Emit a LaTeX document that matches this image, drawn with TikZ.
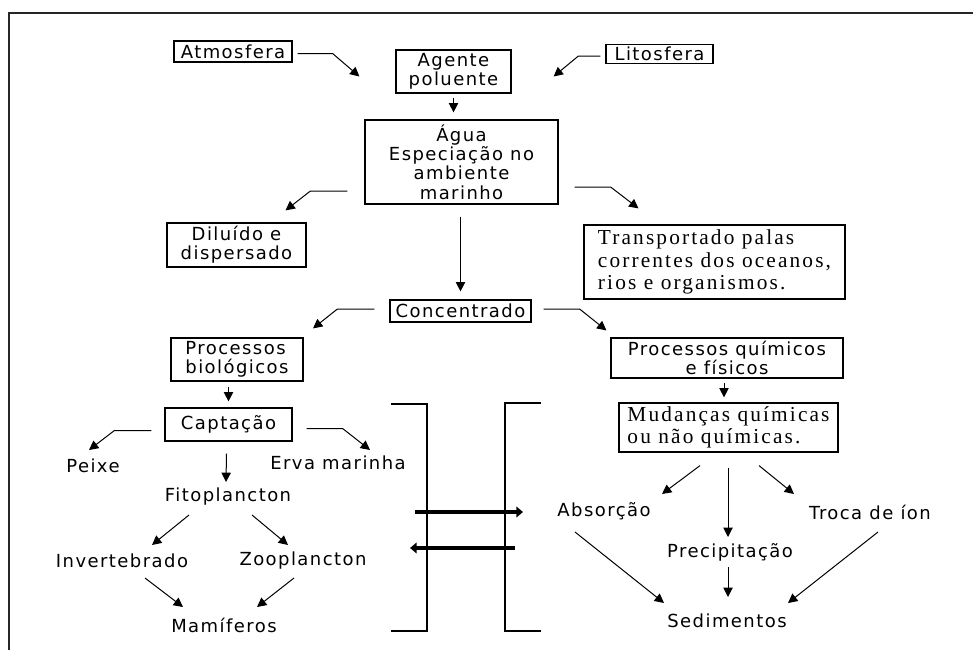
\documentclass[tikz,border=0pt]{standalone}
\usepackage{fontspec}
\setsansfont{DejaVu Sans}[LetterSpace=8]
\newfontfamily\transpfont{Liberation Serif}[LetterSpace=10]
\usetikzlibrary{arrows.meta,calc}

\tikzset{
	box/.style 2 args={draw, line width=0.9pt, inner sep=0pt, align=center,
		minimum width=#1*0.75pt, minimum height=#2*0.75pt,
		font=\sffamily\fontsize{13.5}{14.5}\selectfont},
	serifbox/.style 2 args={box={#1}{#2}, align=left,
		font=\transpfont\fontsize{16}{17}\selectfont},
	lbl/.style={inner sep=0pt, font=\sffamily\fontsize{13.5}{14.5}\selectfont},
	arr/.style={-{Triangle[length=7pt,width=7pt]}, line width=0.75pt},
	bigarr/.style={-{Triangle[length=5pt,width=8pt]}, line width=2.3pt},
}

\begin{document}
\begin{tikzpicture}[x=0.75pt,y=-0.75pt]
\useasboundingbox (0,0) rectangle (973,650);
\draw[line width=1.5pt, black!85] (9,650) -- (9,13) -- (973,13);

\node[box={118}{21}] (atmosfera) at (233,51.5) {Atmosfera};
\node[box={115}{43}] (agente) at (453.5,71.5) {Agente\\poluente};
\node[box={107}{19}] (litosfera) at (659.5,54) {Litosfera};
\node[box={193}{84}] (agua) at (461.5,162) {Água\\Especiação no\\ambiente\\marinho};
\node[box={139}{44}] (diluido) at (236.5,245) {Diluído e\\dispersado};
\node[serifbox={261}{74}] (transportado) at (714.5,262) {Transportado palas\\correntes dos oceanos,\\rios e organismos.};
\node[box={141}{22}] (concentrado) at (460.5,311) {Concentrado};
\node[box={132}{43}, align=left] (procbio) at (237,359.5) {Processos\\biológicos};
\node[box={232}{40}] (procquim) at (727,358) {Processos químicos\\e físicos};
\node[box={127}{33}] (captacao) at (228.5,424.5) {Captação};
\node[serifbox={219}{49}] (mudancas) at (728.5,427.5) {Mudanças químicas\\ou não químicas.};

\node[lbl] (peixe) at (93,466) {Peixe};
\node[lbl] (erva) at (338,463) {Erva marinha};
\node[lbl] (fito) at (228,497) {Fitoplancton};
\node[lbl] (invert) at (122,561) {Invertebrado};
\node[lbl] (zoo) at (303,561) {Zooplancton};
\node[lbl] (mamiferos) at (224,625) {Mamíferos};
\node[lbl] (absorcao) at (604,511) {Absorção};
\node[lbl] (troca) at (870,512) {Troca de íon};
\node[lbl] (precip) at (730,552) {Precipitação};
\node[lbl] (sedimentos) at (727,621) {Sedimentos};

\draw[arr] ([shift={(5,2)}]atmosfera.east) -- ++(35,0) -- ([shift={(-36,5)}]agente.west);
\draw[arr] ([shift={(-5,2)}]litosfera.west) -- ++(-22,0) -- ([shift={(42,5)}]agente.east);
\draw[arr] ($(agente.south)+(0,4)$) -- ($(agente.south |- agua.north)+(0,-7)$);
\draw[arr] ([shift={(-17,29)}]agua.west) -- ++(-37,0) -- ([shift={(49,-12)}]diluido.north);
\draw[arr] ([shift={(16,25)}]agua.east) -- ++(36,0) -- ([shift={(-76,-16)}]transportado.north);
\draw[arr] ($(concentrado.north |- agua.south)+(0,12)$) -- ($(concentrado.north)+(0,-8)$);
\draw[arr] ([shift={(-15,-2)}]concentrado.west) -- ++(-37,0) -- ([shift={(76,-9)}]procbio.north);
\draw[arr] ([shift={(12,-2)}]concentrado.east) -- ++(36,0) -- ([shift={(-4,-7)}]procquim.north west);
\draw[arr] ($(captacao.north |- procbio.south)+(0,5)$) -- ($(captacao.north)+(0,-6)$);
\draw[arr] ([shift={(-13,6)}]captacao.west) -- ++(-37,0) -- ($(peixe.center)+(-4,-16)$);
\draw[arr] ([shift={(14,4)}]captacao.east) -- ++(36,0) -- ($(erva.center)+(32,-13)$);
\draw[arr] ($(captacao.south)+(-2,12)$) -- ($(fito.center)+(-2,-15)$);
\draw[arr] ($(fito.center)+(-39,18)$) -- ($(invert.center)+(30,-16)$);
\draw[arr] ($(fito.center)+(24,18)$) -- ($(zoo.center)+(-15,-16)$);
\draw[arr] ($(invert.center)+(23,17)$) -- ($(mamiferos.center)+(-41,-18)$);
\draw[arr] ($(zoo.center)+(-9,17)$) -- ($(mamiferos.center)+(33,-18)$);
\draw[arr] ($(procquim.south)+(-3,4)$) -- ($(mudancas.north)+(-4.5,-5)$);
\draw[arr] ($(mudancas.south)+(-28.5,13)$) -- ($(absorcao.center)+(58,-17)$);
\draw[arr] ($(mudancas.south)+(-0.5,15)$) -- ($(precip.center)+(-2,-15)$);
\draw[arr] ($(mudancas.south)+(30.5,13)$) -- ($(troca.center)+(-76,-18)$);
\draw[arr] ($(absorcao.center)+(-29,21)$) -- ($(sedimentos.center)+(-63,-18)$);
\draw[arr] ($(precip.center)+(-2,15)$) -- ($(sedimentos.center)+(1,-24)$);
\draw[arr] ($(troca.center)+(8,20)$) -- ($(sedimentos.center)+(61,-18)$);

\coordinate (bioBracket) at (427,404);
\coordinate (quimBracket) at (505,403);
\draw[line width=0.9pt] ($(bioBracket)+(-36,0)$) -- (bioBracket) -- ++(0,227) -- ++(-36,0);
\draw[line width=0.9pt] ($(quimBracket)+(36,0)$) -- (quimBracket) -- ++(0,228) -- ++(36,0);
\draw[bigarr] ($(bioBracket)+(-12,108)$) -- ($(quimBracket)+(18,109)$);
\draw[bigarr] ($(quimBracket)+(10,145)$) -- ($(bioBracket)+(-17,144)$);
\end{tikzpicture}
\end{document}
